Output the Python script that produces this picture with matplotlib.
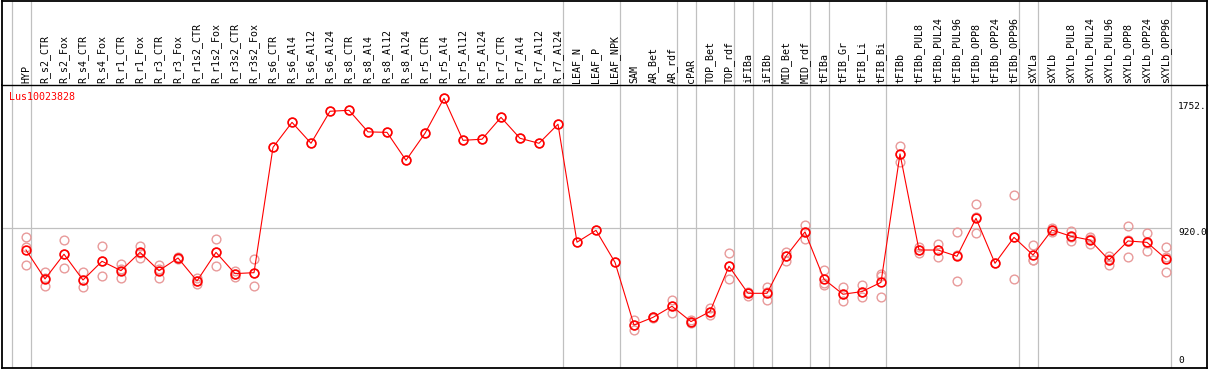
import matplotlib
matplotlib.use("Agg")
import matplotlib.pyplot as plt

# Data
samples = ['HYP', 'R_s2_CTR', 'R_s2_Fox', 'R_s4_CTR', 'R_s4_Fox', 'R_r1_CTR', 'R_r1_Fox',
           'R_r3_CTR', 'R_r3_Fox', 'R_r1s2_CTR', 'R_r1s2_Fox', 'R_r3s2_CTR', 'R_r3s2_Fox',
           'R_s6_CTR', 'R_s6_Al4', 'R_s6_Al12', 'R_s6_Al24', 'R_s8_CTR', 'R_s8_Al4',
           'R_s8_Al12', 'R_s8_Al24', 'R_r5_CTR', 'R_r5_Al4', 'R_r5_Al12', 'R_r5_Al24',
           'R_r7_CTR', 'R_r7_Al4', 'R_r7_Al12', 'R_r7_Al24', 'LEAF_N', 'LEAF_P', 'LEAF_NPK',
           'SAM', 'AR_Bet', 'AR_rdf', 'cPAR', 'TOP_Bet', 'TOP_rdf', 'iFIBa', 'iFIBb',
           'MID_Bet', 'MID_rdf', 'tFIBa', 'tFIB_Gr', 'tFIB_Li', 'tFIB_Bi', 'tFIBb',
           'tFIBb_PUL8', 'tFIBb_PUL24', 'tFIBb_PUL96', 'tFIBb_OPP8', 'tFIBb_OPP24', 'tFIBb_OPP96',
           'sXYLa', 'sXYLb', 'sXYLb_PUL8', 'sXYLb_PUL24', 'sXYLb_PUL96', 'sXYLb_OPP8',
           'sXYLb_OPP24', 'sXYLb_OPP96']

means = [781, 596, 754, 589, 709, 649, 766, 649, 730, 583, 766, 630, 636,
         1438, 1598, 1464, 1669, 1675, 1537, 1534, 1355, 1528, 1752, 1483, 1490,
         1630, 1496, 1464, 1586, 831, 907, 702,
         301, 350, 421, 323, 387, 677, 504, 504, 741, 897, 594, 498, 515, 574, 1396,
         781, 781, 741, 984, 696, 862, 749, 909, 869, 845, 717, 839, 830, 724]

reps = [[862, 803, 683], [638, 600, 549], [843, 754, 664], [638, 587, 542],
        [805, 709, 613], [690, 658, 600], [805, 762, 732], [685, 658, 604],
        [734, 732, 724], [604, 583, 562], [852, 771, 677], [649, 630, 611],
        [724, 634, 551],
        [1438], [1598], [1464], [1669], [1675], [1537], [1534], [1355], [1528],
        [1752], [1483], [1490], [1630], [1496], [1464], [1586], [831], [907], [702],
        [333, 301, 269], [355, 350, 344], [461, 421, 380], [333, 323, 312],
        [412, 387, 365], [760, 677, 594], [515, 504, 489], [542, 510, 459],
        [771, 741, 711], [941, 899, 850], [651, 568, 557], [542, 498, 453],
        [555, 510, 478], [630, 615, 478], [1445, 1396, 1342],
        [798, 781, 764], [820, 781, 738], [894, 747, 581], [1074, 990, 888],
        [696], [1131, 862, 594], [811, 719, 715], [920, 909, 899],
        [903, 867, 837], [867, 852, 817], [745, 722, 685], [935, 843, 738],
        [888, 828, 775], [798, 734, 638]]

group_breaks = [-1, 0, 28, 31, 34, 35, 37, 38, 39, 41, 42, 45, 52, 53, 60]
gene = 'Lus10023828'

W, H = 1209, 370
fig = plt.figure(figsize=(W / 100, H / 100), dpi=100)
plt.rcParams['font.family'] = 'DejaVu Sans Mono'

xlim = ((2 - 26) / 19, (1207 - 26) / 19)
ax = fig.add_axes([2 / W, 2 / H, 1205 / W, 283 / H])
head = fig.add_axes([2 / W, 285 / H, 1205 / W, 84.5 / H])

gray = '#c0c0c0'
for a in (ax, head):
    a.set_xlim(*xlim)
    a.set_xticks([])
    a.set_yticks([])
    for s in a.spines.values():
        s.set_linewidth(1.3)
    for b in group_breaks:
        a.axvline(b + 0.25, color=gray, linewidth=0.9, zorder=0)
head.set_ylim(0, 1)
head.spines['bottom'].set_linewidth(1.0)

ax.set_ylim(26, 1837)
ax.hlines(920, xlim[0], 60.25, color=gray, linewidth=0.9, zorder=0)

# replicate points
for i, r in enumerate(reps):
    ax.plot([i] * len(r), r, 'o', markersize=6.3, markerfacecolor='none',
            markeredgecolor='#e89a9a', markeredgewidth=1.0, zorder=2)

# means
x = list(range(len(samples)))
ax.plot(x, means, '-', color='red', linewidth=0.8, zorder=3)
ax.plot(x, means, 'o', markersize=6.3, markerfacecolor='none',
        markeredgecolor='red', markeredgewidth=1.2, zorder=4)

# labels
for i, s in enumerate(samples):
    head.text(i, 0.025, s, rotation=90, ha='center', va='bottom', fontsize=7.2)

ax.text(0.006, 0.957, gene, transform=ax.transAxes, color='red',
        fontsize=7.2, ha='left', va='center')

lx = (1178 - 26) / 19
ax.annotate('1752.', (lx, 1752), xytext=(0, -4), textcoords='offset pixels',
            ha='left', va='top', fontsize=6.8)
ax.annotate('920.0', (lx, 920), xytext=(0, 0), textcoords='offset pixels',
            ha='left', va='top', fontsize=6.8)
ax.annotate('0', (lx, 26), xytext=(0, 3), textcoords='offset pixels',
            ha='left', va='bottom', fontsize=6.8)

fig.savefig('out.png', dpi=100)
